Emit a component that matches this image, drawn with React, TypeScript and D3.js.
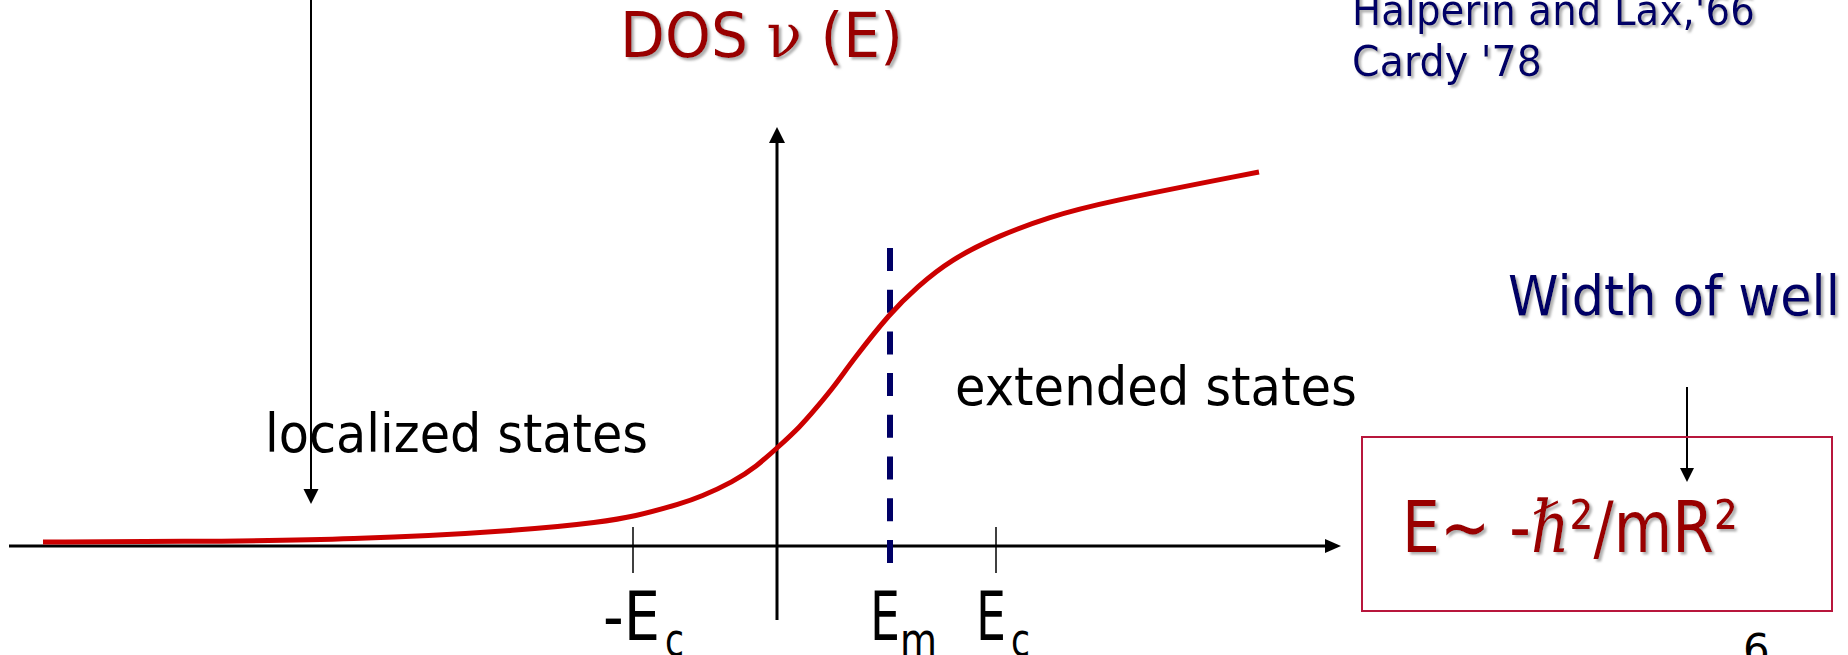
import React from "react";
import * as d3 from "d3";

// Density of states curve nu(E), energies in arbitrary units
const energy = [-7.34, -6.0, -4.23, -2.47, -1.77, -1.44, -0.94, -0.77, -0.44, -0.2, 0, 0.23, 0.4, 0.56, 0.76, 1.13, 1.4, 1.73, 2.23, 2.73, 3.23, 4.82];
const dos = [0.04, 0.045, 0.06, 0.16, 0.24, 0.29, 0.43, 0.49, 0.64, 0.8, 0.98, 1.19, 1.39, 1.58, 1.86, 2.33, 2.59, 2.86, 3.11, 3.29, 3.43, 3.74];

// Marked energies on the horizontal axis
const tickEnergy = [-1.44, 1.13, 2.19];
const tickMain = ["-E", "E", "E"];
const tickSub = ["c", "m", "c"];
const mobilityEdge = 1.13;

const W = 1848;
const H = 655;
const FONT = "'Comic Sans MS', 'DejaVu Sans', sans-serif";
const RED = "#990000";
const NAVY = "#000066";

export default function App() {
  const x = d3.scaleLinear().domain([-1, 1]).range([677, 877]);
  const y = d3.scaleLinear().domain([0, 1]).range([546, 446]);

  const pts: [number, number][] = energy.map((e, i) => [e, dos[i]]);
  const line = d3
    .line<[number, number]>()
    .x((d) => x(d[0]))
    .y((d) => y(d[1]))
    .curve(d3.curveBasis);

  const xAxisStart = x(-7.68);
  const xAxisEnd = x(5.64);
  const yAxisBottom = y(-0.74);
  const yAxisTop = y(4.19);
  const axisY = y(0);
  const axisX = x(0);

  const arrowDown = (cx: number, tip: number, w: number, h: number) =>
    `M${cx - w / 2},${tip - h} L${cx + w / 2},${tip - h} L${cx},${tip} Z`;

  return (
    <svg
      width={W}
      height={H}
      style={{ position: "absolute", left: 0, top: 0, background: "#fff" }}
    >
      <defs>
        <filter id="shadow" x="-5%" y="-20%" width="115%" height="150%">
          <feDropShadow dx="2.5" dy="2.5" stdDeviation="0.8" floodColor="#9a9a9a" floodOpacity="0.8" />
        </filter>
      </defs>

      {/* Title */}
      <text x={620} y={57} fontFamily={FONT} fontSize={62} fill={RED} filter="url(#shadow)" textLength={283} lengthAdjust="spacingAndGlyphs">
        DOS <tspan fontFamily="'DejaVu Serif', serif">ν</tspan> (E)
      </text>

      {/* References */}
      <text x={1352} y={25} fontFamily={FONT} fontSize={43} fill={NAVY} filter="url(#shadow)" textLength={403} lengthAdjust="spacingAndGlyphs">
        Halperin and Lax,'66
      </text>
      <text x={1352} y={76} fontFamily={FONT} fontSize={43} fill={NAVY} filter="url(#shadow)" textLength={190} lengthAdjust="spacingAndGlyphs">
        Cardy '78
      </text>

      {/* Long pointer into the localized tail */}
      <line x1={311} y1={0} x2={311} y2={490} stroke="#000" strokeWidth={2} />
      <path d={arrowDown(311, 504, 15, 15)} fill="#000" />

      {/* Axes */}
      <line x1={xAxisStart} y1={axisY} x2={xAxisEnd - 12} y2={axisY} stroke="#000" strokeWidth={3} />
      <path d={`M${xAxisEnd},${axisY} L${xAxisEnd - 16},${axisY - 7} L${xAxisEnd - 16},${axisY + 7} Z`} fill="#000" />
      <line x1={axisX} y1={yAxisBottom} x2={axisX} y2={yAxisTop + 12} stroke="#000" strokeWidth={3} />
      <path d={`M${axisX},${yAxisTop} L${axisX - 8},${yAxisTop + 16} L${axisX + 8},${yAxisTop + 16} Z`} fill="#000" />

      {/* Ticks at -Ec and Ec */}
      {[tickEnergy[0], tickEnergy[2]].map((e, i) => (
        <line key={i} x1={x(e)} y1={y(0.19)} x2={x(e)} y2={y(-0.27)} stroke="#000" strokeWidth={1.5} />
      ))}

      {/* Mobility edge */}
      <line
        x1={x(mobilityEdge)}
        y1={y(2.98)}
        x2={x(mobilityEdge)}
        y2={y(-0.17)}
        stroke={NAVY}
        strokeWidth={6}
        strokeDasharray="23 18.7"
      />

      {/* DOS curve */}
      <path d={line(pts) ?? ""} fill="none" stroke="#cc0000" strokeWidth={5} strokeLinecap="butt" />

      {/* Tick labels */}
      {tickEnergy.map((e, i) => {
        const px = x(e);
        const mainW = tickMain[i].length > 1 ? 57 : 30;
        const left = i === 0 ? px - 30 : px - 20;
        return (
          <g key={i}>
            <text x={left} y={640} fontFamily={FONT} fontSize={68} fill="#000" textLength={mainW} lengthAdjust="spacingAndGlyphs">
              {tickMain[i]}
            </text>
            <text
              x={left + mainW + (i === 1 ? 0 : 5)}
              y={656}
              fontFamily={FONT}
              fontSize={46}
              fill="#000"
              textLength={i === 1 ? 37 : 19}
              lengthAdjust="spacingAndGlyphs"
            >
              {tickSub[i]}
            </text>
          </g>
        );
      })}

      {/* Region labels */}
      <text x={265} y={452} fontFamily={FONT} fontSize={53} fill="#000" textLength={383} lengthAdjust="spacingAndGlyphs">
        localized states
      </text>
      <text x={955} y={405} fontFamily={FONT} fontSize={53} fill="#000" textLength={402} lengthAdjust="spacingAndGlyphs">
        extended states
      </text>

      {/* Well width annotation */}
      <text x={1508} y={315} fontFamily={FONT} fontSize={56} fill={NAVY} filter="url(#shadow)" textLength={332} lengthAdjust="spacingAndGlyphs">
        Width of well
      </text>
      <line x1={1687} y1={387} x2={1687} y2={470} stroke="#000" strokeWidth={2} />
      <path d={arrowDown(1687, 482, 14, 14)} fill="#000" />

      <rect x={1362} y={437} width={470} height={174} fill="none" stroke="#b8163c" strokeWidth={2} />
      <text x={1402} y={552} fontFamily={FONT} fontSize={72} fill={RED} filter="url(#shadow)" textLength={336} lengthAdjust="spacingAndGlyphs">
        E∼ -<tspan fontFamily="'DejaVu Serif', serif" fontStyle="italic">ℏ</tspan>²/mR²
      </text>

      {/* Slide number */}
      <text x={1743} y={664} fontFamily={FONT} fontSize={42} fill="#000">
        6
      </text>
    </svg>
  );
}
